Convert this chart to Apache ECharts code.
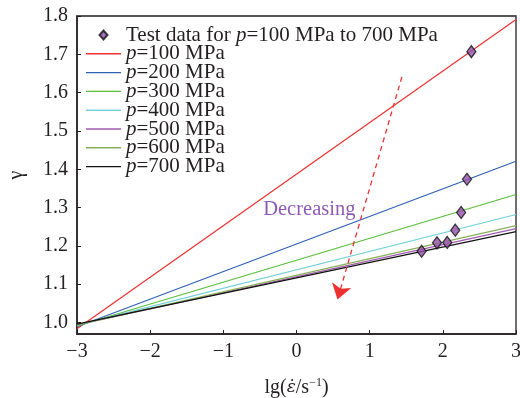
<!DOCTYPE html>
<html>
<head>
<meta charset="utf-8">
<script src="https://cdn.jsdelivr.net/npm/echarts@6/dist/echarts.min.js"></script>
<style>
  html, body { margin: 0; padding: 0; background: #fff; }
  #chart { width: 520px; height: 398px; }
</style>
</head>
<body>
<div id="chart"></div>
<script>
// Fitted lines gamma = f(lg strain rate), one per pressure, given at both x-limits
const lineNames = ['p=100 MPa', 'p=200 MPa', 'p=300 MPa', 'p=400 MPa', 'p=500 MPa', 'p=600 MPa', 'p=700 MPa'];
const lineX = [-3, 3];
const gammaLeft = [0.984, 0.989, 0.991, 0.993, 0.994, 0.994, 0.996];
const gammaRight = [1.791, 1.421, 1.334, 1.282, 1.245, 1.253, 1.237];
const lineColors = ['#ee3030', '#2f62b3', '#5abf3a', '#74d0d8', '#a05ab0', '#88b05a', '#111111'];

// Measured points
const testName = 'Test data for p=100 MPa to 700 MPa';
const testX = [2.39, 2.33, 2.25, 2.17, 2.06, 1.92, 1.71];
const testY = [1.707, 1.374, 1.287, 1.241, 1.209, 1.208, 1.186];

// Trend arrow and its label
const arrowFrom = [1.44, 1.641];
const arrowTo = [0.56, 1.06];
const trendText = 'Decreasing';
const trendAt = [0.175, 1.295];

// Axis ticks
const yTicks = [1.0, 1.1, 1.2, 1.3, 1.4, 1.5, 1.6, 1.7, 1.8];

const serif = '"Liberation Serif", "DejaVu Serif", serif';
const ink = '#231f20';

// Legend icons: a short stroke and a diamond, padded to the full 35x10 icon box
const lineIcon = 'path://M0,0 M0,4.3h35v1.4h-35z M35,10';
const diamondIcon = 'path://M0,0 M17.5,0.5 L21.5,5 L17.5,9.5 L13.5,5 Z M35,10';

const series = lineNames.map((name, i) => ({
  name,
  type: 'line',
  symbol: 'none',
  silent: true,
  lineStyle: { color: lineColors[i], width: 1.2 },
  itemStyle: { color: lineColors[i] },
  data: lineX.map((x, k) => [x, k === 0 ? gammaLeft[i] : gammaRight[i]]),
  z: 2
}));

series.push({
  name: testName,
  type: 'scatter',
  symbol: 'diamond',
  symbolSize: [9, 12],
  itemStyle: { color: '#9450a8', borderColor: '#111', borderWidth: 1.3 },
  data: testX.map((x, i) => [x, testY[i]]),
  z: 5
});

series.push({
  name: 'arrow',
  type: 'lines',
  coordinateSystem: 'cartesian2d',
  symbol: ['none', 'arrow'],
  symbolSize: [8, 15],
  lineStyle: { color: '#ee3030', width: 1.3, type: [5, 4], opacity: 1 },
  data: [{ coords: [arrowFrom, arrowTo] }],
  z: 4
});

series.push({
  name: 'trend',
  type: 'scatter',
  symbolSize: 1,
  itemStyle: { color: 'rgba(0,0,0,0)' },
  silent: true,
  label: {
    show: true,
    position: 'inside',
    formatter: trendText,
    fontFamily: serif,
    fontSize: 20.5,
    color: '#7030a0'
  },
  data: [trendAt],
  z: 6
});

const fmtName = (name) => name.replace(/p=/, '{i|p}=');

const option = {
  backgroundColor: '#fff',
  animation: false,
  grid: {
    left: 77, right: 4, top: 16, bottom: 64,
    outerBoundsMode: 'none',
    containLabel: false,
    show: true, borderColor: ink, borderWidth: 1.3, backgroundColor: 'transparent'
  },
  legend: {
    orient: 'vertical',
    left: 80,
    top: 19.5,
    itemWidth: 35,
    itemHeight: 10,
    itemGap: -2.2,
    padding: 5,
    selectedMode: false,
    data: [{ name: testName, icon: diamondIcon }].concat(lineNames.map(n => ({ name: n, icon: lineIcon }))),
    formatter: fmtName,
    textStyle: {
      fontFamily: serif, fontSize: 21, color: ink,
      rich: { i: { fontFamily: serif, fontSize: 21, fontStyle: 'italic', color: ink } }
    }
  },
  xAxis: {
    type: 'value',
    min: -3, max: 3, interval: 1,
    name: '{t|lg(}{e|ε̇}{t|/s}{s|−1}{t|)}',
    nameLocation: 'middle',
    nameGap: 43,
    nameTextStyle: {
      rich: {
        t: { fontFamily: serif, fontSize: 20, color: ink },
        e: { fontFamily: '"DejaVu Serif", serif', fontSize: 17, fontStyle: 'italic', color: ink },
        s: { fontFamily: serif, fontSize: 12, color: ink, verticalAlign: 'top', padding: [0, 0, 10, 0] }
      }
    },
    axisLine: { onZero: false, lineStyle: { color: ink, width: 1.5 } },
    axisTick: { inside: true, length: 4, lineStyle: { color: ink } },
    splitLine: { show: false },
    axisLabel: {
      fontFamily: serif, fontSize: 20, color: ink, margin: 8,
      formatter: v => String(v).replace('-', '−')
    }
  },
  yAxis: {
    type: 'value',
    min: 0.97, max: 1.8,
    name: 'γ',
    nameLocation: 'middle',
    nameGap: 50,
    nameTextStyle: { fontFamily: serif, fontSize: 20, color: ink },
    axisLine: { show: true, onZero: false, lineStyle: { color: ink, width: 1.5 } },
    axisTick: { show: true, inside: true, length: 4, customValues: yTicks, lineStyle: { color: ink } },
    splitLine: { show: false },
    axisLabel: {
      fontFamily: serif, fontSize: 20, color: ink, margin: 9,
      customValues: yTicks,
      formatter: v => v.toFixed(1)
    }
  },
  series
};

const chart = echarts.init(document.getElementById('chart'), null, { renderer: 'canvas' });
chart.setOption(option);
</script>
</body>
</html>
